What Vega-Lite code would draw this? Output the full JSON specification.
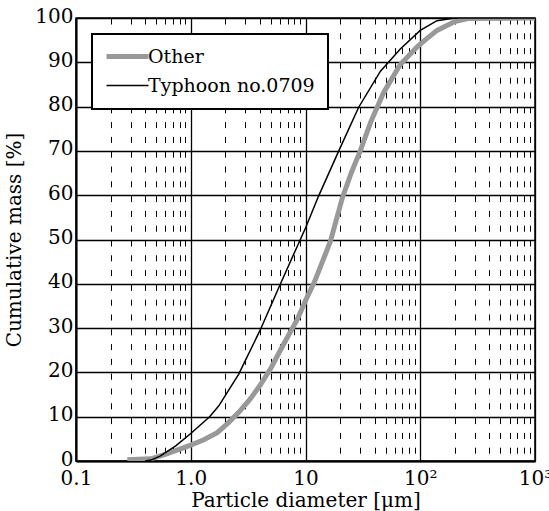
{
  "$schema": "https://vega.github.io/schema/vega-lite/v6.json",
  "width": 459,
  "height": 443,
  "autosize": {"type": "none"},
  "padding": {"left": 76, "top": 18, "right": 14, "bottom": 50},
  "background": "white",
  "config": {
    "font": "DejaVu Serif",
    "view": {"stroke": "black", "strokeWidth": 1.5},
    "axis": {
      "labelFont": "DejaVu Serif",
      "titleFont": "DejaVu Serif",
      "labelFontSize": 20,
      "titleFontSize": 20,
      "labelColor": "black",
      "titleColor": "black",
      "titleFontWeight": "normal",
      "domainColor": "black",
      "domainWidth": 2,
      "ticks": false,
      "gridColor": "black",
      "gridOpacity": 1
    }
  },
  "data": {
    "values": [
      {"d": 0.28, "p": 0.3, "series": "Other"},
      {"d": 0.45, "p": 0.5, "series": "Other"},
      {"d": 0.6, "p": 1.5, "series": "Other"},
      {"d": 0.87, "p": 3.0, "series": "Other"},
      {"d": 1.0, "p": 3.6, "series": "Other"},
      {"d": 1.3, "p": 4.8, "series": "Other"},
      {"d": 1.7, "p": 6.4, "series": "Other"},
      {"d": 2.1, "p": 8.5, "series": "Other"},
      {"d": 2.62, "p": 11, "series": "Other"},
      {"d": 3.3, "p": 14, "series": "Other"},
      {"d": 4.05, "p": 17.2, "series": "Other"},
      {"d": 5.0, "p": 21, "series": "Other"},
      {"d": 6.27, "p": 25.8, "series": "Other"},
      {"d": 8.5, "p": 32, "series": "Other"},
      {"d": 10, "p": 36.2, "series": "Other"},
      {"d": 12, "p": 40.5, "series": "Other"},
      {"d": 16.5, "p": 49.6, "series": "Other"},
      {"d": 21, "p": 59.5, "series": "Other"},
      {"d": 25, "p": 65, "series": "Other"},
      {"d": 30, "p": 70, "series": "Other"},
      {"d": 37, "p": 76.5, "series": "Other"},
      {"d": 48, "p": 83.2, "series": "Other"},
      {"d": 67, "p": 89.5, "series": "Other"},
      {"d": 95, "p": 93.6, "series": "Other"},
      {"d": 110, "p": 95, "series": "Other"},
      {"d": 140, "p": 97.2, "series": "Other"},
      {"d": 200, "p": 99.2, "series": "Other"},
      {"d": 260, "p": 99.9, "series": "Other"},
      {"d": 1000, "p": 100, "series": "Other"},
      {"d": 0.4, "p": 0, "series": "Typhoon no.0709"},
      {"d": 0.45, "p": 0.2, "series": "Typhoon no.0709"},
      {"d": 0.54, "p": 1.1, "series": "Typhoon no.0709"},
      {"d": 0.74, "p": 3.4, "series": "Typhoon no.0709"},
      {"d": 1.0, "p": 6.2, "series": "Typhoon no.0709"},
      {"d": 1.46, "p": 10, "series": "Typhoon no.0709"},
      {"d": 1.75, "p": 12.4, "series": "Typhoon no.0709"},
      {"d": 2.62, "p": 19.6, "series": "Typhoon no.0709"},
      {"d": 4.05, "p": 29.7, "series": "Typhoon no.0709"},
      {"d": 6.0, "p": 39.8, "series": "Typhoon no.0709"},
      {"d": 10, "p": 52.6, "series": "Typhoon no.0709"},
      {"d": 13, "p": 59.8, "series": "Typhoon no.0709"},
      {"d": 19.5, "p": 70, "series": "Typhoon no.0709"},
      {"d": 29, "p": 79.8, "series": "Typhoon no.0709"},
      {"d": 45, "p": 88, "series": "Typhoon no.0709"},
      {"d": 67, "p": 93, "series": "Typhoon no.0709"},
      {"d": 100, "p": 97.2, "series": "Typhoon no.0709"},
      {"d": 140, "p": 99.4, "series": "Typhoon no.0709"},
      {"d": 200, "p": 100, "series": "Typhoon no.0709"},
      {"d": 1000, "p": 100, "series": "Typhoon no.0709"}
    ]
  },
  "mark": {"type": "line", "clip": true},
  "encoding": {
    "x": {
      "field": "d",
      "type": "quantitative",
      "scale": {"type": "log", "domain": [0.1, 1000], "nice": false},
      "axis": {
        "title": "Particle diameter [μm]",
        "values": [0.1,0.2,0.3,0.4,0.5,0.6,0.7,0.8,0.9,1,2,3,4,5,6,7,8,9,10,20,30,40,50,60,70,80,90,100,200,300,400,500,600,700,800,900,1000],
        "labelExpr": "datum.value == 0.1 ? '0.1' : datum.value == 1 ? '1.0' : datum.value == 10 ? '10' : datum.value == 100 ? '10²' : datum.value == 1000 ? '10³' : ''",
        "labelOverlap": false,
        "labelFlush": false,
        "labelPadding": 7,
        "titlePadding": 2,
        "grid": true,
        "gridDash": {"condition": {"test": "abs(log(datum.value)/LN10 - round(log(datum.value)/LN10)) < 0.001", "value": []}, "value": [6, 8.8]},
        "gridWidth": {"condition": {"test": "abs(log(datum.value)/LN10 - round(log(datum.value)/LN10)) < 0.001", "value": 1.3}, "value": 1}
      }
    },
    "y": {
      "field": "p",
      "type": "quantitative",
      "scale": {"domain": [0, 100], "nice": false},
      "axis": {
        "title": "Cumulative mass [%]",
        "values": [0,10,20,30,40,50,60,70,80,90,100],
        "labelPadding": 3,
        "labelOffset": -2,
        "titlePadding": 10,
        "grid": true,
        "gridWidth": 1.3
      }
    },
    "color": {
      "field": "series",
      "type": "nominal",
      "scale": {"domain": ["Other", "Typhoon no.0709"], "range": ["#999999", "#000000"]},
      "legend": {
        "title": null,
        "orient": "none",
        "legendX": 16,
        "legendY": 16,
        "symbolType": "M-3.5,0H3.5",
        "symbolSize": 144,
        "symbolOffset": 13,
        "labelFont": "DejaVu Serif",
        "labelFontSize": 19,
        "labelColor": "black",
        "labelOffset": 11,
        "padding": 13,
        "rowPadding": 9,
        "strokeColor": "black",
        "fillColor": "white",
        "labelLimit": 400,
        "encode": {
          "legend": {"update": {"strokeWidth": {"value": 2}}},
          "symbols": {"update": {"strokeWidth": [{"test": "datum.value == 'Other'", "value": 5}, {"value": 1.5}]}}
        }
      }
    },
    "strokeWidth": {
      "field": "series",
      "type": "ordinal",
      "scale": {"domain": ["Other", "Typhoon no.0709"], "range": [5, 1.5]},
      "legend": null
    }
  }
}
